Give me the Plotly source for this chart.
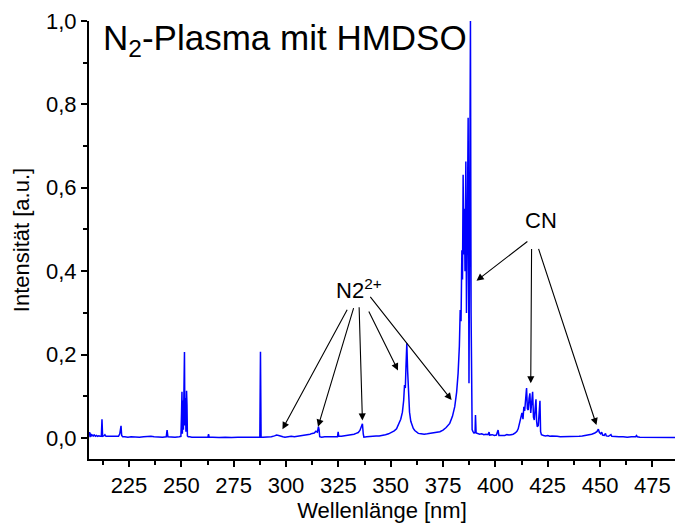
import plotly.graph_objects as go

# ---- spectrum ----
wavelength = [
    206.0, 206.2, 206.4, 206.6, 206.8, 207.0, 207.3, 207.6, 208.0, 208.5, 209.0, 209.5, 210.0, 210.6,
    211.2, 211.8, 212.1, 212.4, 213.0, 213.5, 214.0, 215.0, 216.0, 217.0, 218.0, 219.0, 220.0, 220.6,
    220.9, 221.2, 221.5, 222.0, 223.0, 224.5, 226.0, 228.0, 230.0, 232.0, 234.0, 235.5, 237.0, 239.0,
    241.0, 242.8, 243.2, 243.6, 245.0, 247.0, 249.0, 249.8, 250.1, 250.3, 250.5, 250.8, 251.0, 251.3,
    251.5, 251.7, 252.0, 252.2, 252.5, 252.7, 252.9, 253.3, 254.0, 255.0, 257.0, 259.0, 261.0, 262.7,
    263.0, 263.3, 265.0, 268.0, 271.0, 274.0, 277.0, 280.0, 283.0, 286.0, 287.5, 287.8, 288.1, 289.0,
    291.0, 293.0, 294.5, 295.5, 296.5, 297.5, 298.5, 299.5, 301.0, 302.5, 304.0, 305.5, 307.0, 308.5,
    310.0, 311.5, 312.5, 313.5, 314.3, 315.0, 315.5, 315.8, 316.1, 317.0, 318.5, 320.0, 321.5, 323.0,
    324.6, 324.9, 325.2, 326.5, 328.0, 329.5, 331.0, 332.5, 333.5, 334.5, 335.3, 336.0, 336.5, 336.9,
    337.2, 338.5, 340.0, 341.5, 343.0, 344.5, 346.0, 347.5, 349.0, 350.5, 351.7, 352.8, 353.8, 354.8,
    355.6, 356.2, 356.6, 357.0, 357.3, 357.7, 358.1, 358.5, 359.0, 359.6, 360.2, 360.8, 361.5, 362.3,
    363.2, 364.5, 366.0, 367.5, 369.0, 370.5, 372.0, 373.5, 375.0, 376.5, 378.2, 379.5, 380.6, 381.5,
    382.2, 382.8, 383.2, 383.6, 384.0, 384.3, 384.6, 384.9, 385.2, 385.5, 385.9, 386.2, 386.6, 387.0,
    387.4, 387.7, 388.1, 388.4, 388.6, 388.9, 389.3, 389.8, 390.3, 390.5, 390.8, 391.5, 392.5, 393.5,
    394.5, 395.5, 396.5, 397.0, 397.3, 398.5, 399.5, 400.5, 401.3, 401.7, 402.5, 403.5, 404.5, 405.5,
    406.5, 407.5, 408.5, 409.5, 410.3, 410.9, 411.6, 412.2, 412.7, 413.2, 413.6, 414.0, 414.5, 414.9,
    415.3, 415.7, 416.1, 416.5, 416.9, 417.3, 417.8, 418.2, 418.6, 419.0, 419.4, 419.7, 420.0, 420.5,
    420.9, 421.3, 421.6, 422.0, 423.0, 424.0, 425.0, 426.0, 427.0, 428.0, 429.5, 431.0, 432.5, 434.0,
    435.5, 437.0, 438.5, 440.0, 441.5, 443.0, 444.5, 446.0, 447.5, 448.5, 449.2, 449.7, 450.3, 450.8,
    451.2, 452.0, 452.6, 453.0, 454.0, 455.2, 455.6, 457.0, 459.0, 461.0, 463.0, 465.0, 467.0, 467.4,
    467.8, 469.0, 471.0, 473.0, 475.0, 477.0, 479.0, 481.0, 483.0, 485.0, 486.0,
]
intensity = [
    0.006, 0.014, 0.002, 0.011, 0.003, 0.009, 0.004, 0.008, 0.005, 0.007, 0.004, 0.006, 0.004, 0.005,
    0.004, 0.004, 0.045, 0.004, 0.005, 0.008, 0.004, 0.004, 0.003, 0.004, 0.003, 0.003, 0.004, 0.010,
    0.020, 0.029, 0.006, 0.003, 0.003, 0.002, 0.003, 0.002, 0.002, 0.003, 0.004, 0.004, 0.003, 0.002,
    0.002, 0.003, 0.019, 0.003, 0.002, 0.002, 0.003, 0.004, 0.060, 0.111, 0.010, 0.090, 0.020, 0.150,
    0.206, 0.030, 0.096, 0.015, 0.113, 0.080, 0.005, 0.003, 0.003, 0.002, 0.002, 0.002, 0.002, 0.002,
    0.009, 0.002, 0.002, 0.001, 0.002, 0.001, 0.002, 0.002, 0.001, 0.002, 0.002, 0.207, 0.002, 0.002,
    0.002, 0.003, 0.005, 0.007, 0.006, 0.004, 0.003, 0.002, 0.003, 0.004, 0.003, 0.004, 0.005, 0.006,
    0.007, 0.009, 0.011, 0.012, 0.016, 0.014, 0.027, 0.020, 0.003, 0.002, 0.003, 0.003, 0.003, 0.004,
    0.003, 0.015, 0.004, 0.004, 0.005, 0.006, 0.007, 0.009, 0.011, 0.013, 0.018, 0.026, 0.034, 0.010,
    0.002, 0.003, 0.004, 0.004, 0.005, 0.005, 0.006, 0.008, 0.010, 0.013, 0.017, 0.022, 0.032, 0.045,
    0.062, 0.090, 0.127, 0.120, 0.170, 0.227, 0.160, 0.100, 0.062, 0.040, 0.028, 0.023, 0.018, 0.014,
    0.011, 0.010, 0.009, 0.010, 0.011, 0.012, 0.013, 0.015, 0.019, 0.025, 0.035, 0.052, 0.075, 0.110,
    0.155, 0.220, 0.307, 0.280, 0.450, 0.380, 0.631, 0.440, 0.550, 0.400, 0.663, 0.300, 0.500, 0.768,
    0.131, 0.400, 1.000, 0.300, 0.060, 0.020, 0.015, 0.012, 0.013, 0.055, 0.012, 0.010, 0.009, 0.010,
    0.008, 0.009, 0.008, 0.014, 0.007, 0.008, 0.006, 0.007, 0.019, 0.006, 0.006, 0.007, 0.006, 0.008,
    0.007, 0.008, 0.009, 0.012, 0.016, 0.022, 0.035, 0.050, 0.060, 0.045, 0.075, 0.065, 0.100, 0.120,
    0.070, 0.067, 0.095, 0.107, 0.060, 0.080, 0.111, 0.050, 0.043, 0.070, 0.093, 0.040, 0.027, 0.030,
    0.060, 0.089, 0.015, 0.008, 0.006, 0.005, 0.006, 0.004, 0.005, 0.004, 0.004, 0.003, 0.003, 0.003,
    0.003, 0.003, 0.004, 0.004, 0.005, 0.006, 0.007, 0.009, 0.012, 0.015, 0.021, 0.013, 0.010, 0.014,
    0.007, 0.006, 0.011, 0.005, 0.004, 0.008, 0.004, 0.003, 0.003, 0.003, 0.002, 0.003, 0.003, 0.006,
    0.003, 0.002, 0.002, 0.002, 0.002, 0.001, 0.002, 0.001, 0.001, 0.001, 0.001,
]

x_tick_values = [225, 250, 275, 300, 325, 350, 375, 400, 425, 450, 475]
y_tick_values = [0.0, 0.2, 0.4, 0.6, 0.8, 1.0]

# annotation arrows: (tail wavelength, tail intensity, tip wavelength, tip intensity)
n2_arrows = [
    (329.6, 0.311, 298.3, 0.021),
    (332.5, 0.315, 315.3, 0.027),
    (334.9, 0.317, 336.5, 0.042),
    (339.2, 0.307, 353.5, 0.162),
    (339.7, 0.342, 379.1, 0.091),
]
cn_arrows = [
    (416.0, 0.474, 391.0, 0.377),
    (417.3, 0.457, 416.9, 0.131),
    (420.4, 0.457, 448.3, 0.031),
]

FONT = "Liberation Sans, Arial, sans-serif"

fig = go.Figure()
fig.add_trace(go.Scatter(
    x=wavelength, y=intensity, mode="lines",
    line=dict(color="#0000ff", width=1.5), showlegend=False,
))

annotations = []
for tx, ty, hx, hy in n2_arrows + cn_arrows:
    annotations.append(dict(
        x=hx, y=hy, ax=tx, ay=ty, xref="x", yref="y", axref="x", ayref="y",
        text="", showarrow=True, arrowhead=2, arrowsize=1.3, arrowwidth=1.1,
        arrowcolor="black",
    ))
annotations.append(dict(
    x=322.8, y=0.358, xref="x", yref="y", text="N2<sup>2+</sup>",
    showarrow=False, xanchor="left", yanchor="middle",
    font=dict(family=FONT, size=22, color="black"),
))
annotations.append(dict(
    x=421.7, y=0.521, xref="x", yref="y", text="CN",
    showarrow=False, xanchor="center", yanchor="middle",
    font=dict(family=FONT, size=22, color="black"),
))
annotations.append(dict(
    x=211.5, y=0.955, xref="x", yref="y", text="N<sub>2</sub>-Plasma mit HMDSO",
    showarrow=False, xanchor="left", yanchor="middle",
    font=dict(family=FONT, size=35, color="black"),
))

# The figure is a little wider than the window so that the plot area reaches
# the window's right edge while the last tick label stays inside the div.
fig.update_layout(
    width=690, height=526,
    margin=dict(l=89, r=15, t=21, b=67),
    paper_bgcolor="white", plot_bgcolor="white",
    separators=", ",
    font=dict(family=FONT, size=22, color="black"),
    annotations=annotations,
)
fig.update_xaxes(
    range=[205.9, 485.8], tickvals=x_tick_values, automargin=False,
    ticklabeloverflow="allow",
    showline=True, linecolor="black", linewidth=2, mirror=False,
    ticks="outside", ticklen=6, tickwidth=1.5, tickcolor="black",
    minor=dict(ticks="outside", ticklen=4, tickwidth=1.5, tickcolor="black", dtick=12.5, tick0=212.5),
    showgrid=False, zeroline=False,
    title=dict(text="Wellenlänge [nm]", font=dict(family=FONT, size=22), standoff=2),
    tickfont=dict(family=FONT, size=22),
)
fig.update_yaxes(
    range=[-0.0504, 1.0], tickvals=y_tick_values, tickformat=".1f", automargin=False,
    ticklabeloverflow="allow",
    showline=True, linecolor="black", linewidth=2, mirror=False,
    ticks="outside", ticklen=6, tickwidth=1.5, tickcolor="black",
    minor=dict(ticks="outside", ticklen=4, tickwidth=1.5, tickcolor="black", dtick=0.1, tick0=0),
    showgrid=False, zeroline=False,
    title=dict(text="Intensität [a.u.]", font=dict(family=FONT, size=22), standoff=10),
    tickfont=dict(family=FONT, size=22),
)

fig.write_html(
    "out.html",
    config={"displayModeBar": False},
    post_script="document.body.style.margin='0';document.body.style.overflow='hidden';",
)
